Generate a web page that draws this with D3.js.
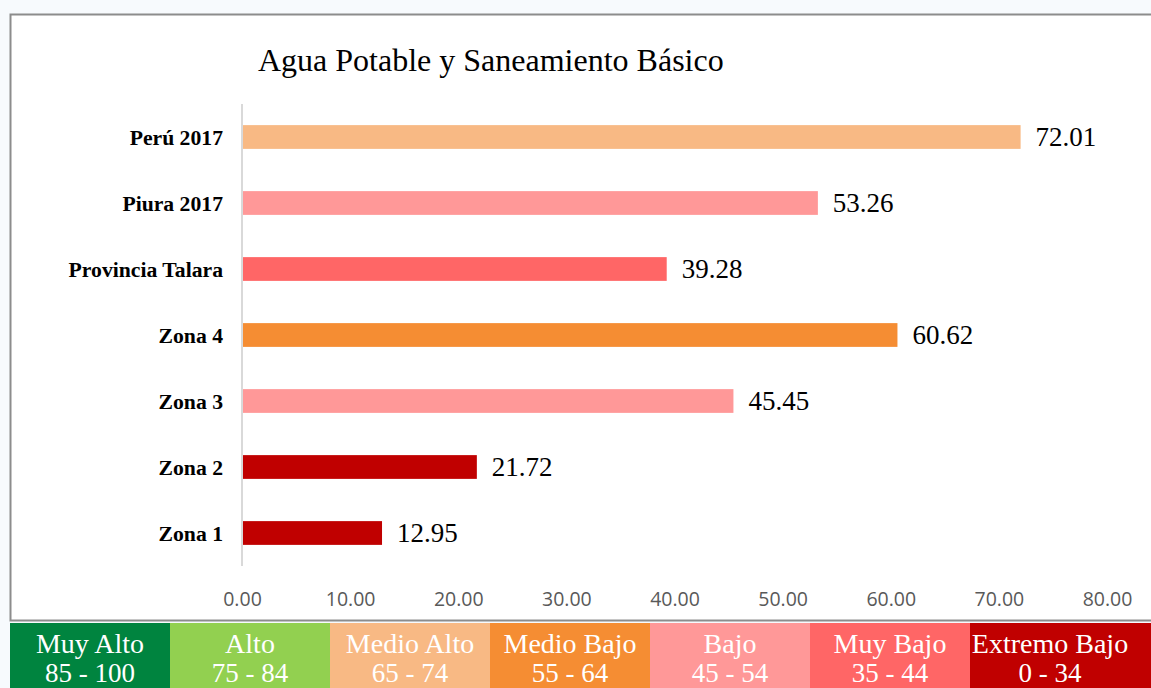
<!DOCTYPE html>
<html>
<head>
<meta charset="utf-8">
<script src="https://cdn.jsdelivr.net/npm/d3@7"></script>
<style>
  body { margin: 0; background: #f7fafd; }
  svg { display: block; }
</style>
</head>
<body>
<div id="chart"></div>
<script>
const categories = ["Perú 2017", "Piura 2017", "Provincia Talara", "Zona 4", "Zona 3", "Zona 2", "Zona 1"];
const values = [72.01, 53.26, 39.28, 60.62, 45.45, 21.72, 12.95];
const barColors = ["#f8b984", "#ff9898", "#ff6666", "#f58d33", "#ff9898", "#c00000", "#c00000"];
const ticks = [0, 10, 20, 30, 40, 50, 60, 70, 80];
const legendNames = ["Muy Alto", "Alto", "Medio Alto", "Medio Bajo", "Bajo", "Muy Bajo", "Extremo Bajo"];
const legendRanges = ["85 - 100", "75 - 84", "65 - 74", "55 - 64", "45 - 54", "35 - 44", "0 - 34"];
const legendColors = ["#00843f", "#92d050", "#f8b984", "#f58d33", "#ff9898", "#ff6666", "#c00000"];

const width = 1151, height = 688;
const serif = "'Liberation Serif', 'Times New Roman', serif";

const svg = d3.select("#chart").append("svg")
    .attr("width", width)
    .attr("height", height);

// chart frame
svg.append("rect")
    .attr("x", 10.5).attr("y", 14.5)
    .attr("width", 1160).attr("height", 606)
    .attr("fill", "#ffffff")
    .attr("stroke", "#8c8c8c")
    .attr("stroke-width", 2);

svg.append("text")
    .attr("x", 258).attr("y", 71)
    .style("font-family", serif)
    .style("font-size", "32px")
    .attr("fill", "#000")
    .text("Agua Potable y Saneamiento Básico");

const x = d3.scaleLinear().domain([0, 80]).range([242, 1107]);
const y = d3.scaleBand().domain(categories).range([104, 566]).paddingInner(0.64).paddingOuter(0.32);

// bars
svg.selectAll(".bar")
    .data(categories)
    .enter().append("rect")
    .attr("class", "bar")
    .attr("x", x(0))
    .attr("y", d => y(d))
    .attr("width", (d, i) => x(values[i]) - x(0))
    .attr("height", y.bandwidth())
    .attr("fill", (d, i) => barColors[i]);

// vertical axis line
svg.append("line")
    .attr("x1", x(0)).attr("x2", x(0))
    .attr("y1", 104).attr("y2", 566)
    .attr("stroke", "#d9d9d9")
    .attr("stroke-width", 2);

// category labels
svg.selectAll(".cat")
    .data(categories)
    .enter().append("text")
    .attr("class", "cat")
    .attr("x", 223)
    .attr("y", d => y(d) + y.bandwidth() / 2)
    .attr("dy", "0.35em")
    .attr("text-anchor", "end")
    .style("font-family", serif)
    .style("font-weight", "bold")
    .style("font-size", "21.7px")
    .text(d => d);

// value labels
svg.selectAll(".val")
    .data(categories)
    .enter().append("text")
    .attr("class", "val")
    .attr("x", (d, i) => x(values[i]) + 15)
    .attr("y", d => y(d) + y.bandwidth() / 2)
    .attr("dy", "0.35em")
    .style("font-family", serif)
    .style("font-size", "27px")
    .text((d, i) => values[i].toFixed(2));

// x axis tick labels
const xAxis = d3.axisBottom(x).tickValues(ticks).tickFormat(d3.format(".2f")).tickSize(0);
const gx = svg.append("g")
    .attr("transform", "translate(0,589)")
    .call(xAxis);
gx.select(".domain").remove();
gx.selectAll("text")
    .style("font-family", "'Open Sans', 'Noto Sans', sans-serif")
    .style("font-size", "19.5px")
    .attr("fill", "#595959");

// legend boxes
const lx = d3.scaleBand().domain(legendNames).range([10, 1130]);
const leg = svg.selectAll(".leg")
    .data(legendNames)
    .enter().append("g")
    .attr("class", "leg")
    .attr("transform", d => `translate(${lx(d)},623)`);

leg.append("rect")
    .attr("width", (d, i) => i === legendNames.length - 1 ? 200 : lx.bandwidth() + 0.5)
    .attr("height", 70)
    .attr("fill", (d, i) => legendColors[i]);

leg.append("text")
    .attr("x", lx.bandwidth() / 2)
    .attr("y", 30)
    .attr("text-anchor", "middle")
    .style("font-family", serif)
    .style("font-size", "28px")
    .attr("fill", "#fff")
    .text(d => d);

leg.append("text")
    .attr("x", lx.bandwidth() / 2)
    .attr("y", 59)
    .attr("text-anchor", "middle")
    .style("font-family", serif)
    .style("font-size", "27px")
    .attr("fill", "#fff")
    .text((d, i) => legendRanges[i]);
</script>
</body>
</html>
